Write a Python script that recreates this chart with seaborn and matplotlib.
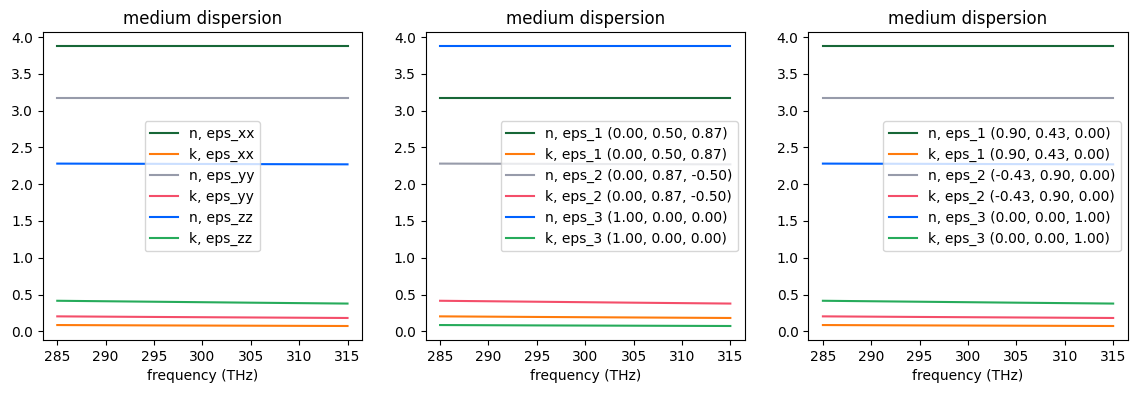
import matplotlib
matplotlib.use("Agg")
import matplotlib.pyplot as plt
import seaborn as sns
import numpy as np

# frequency samples (THz)
freq = [285, 295, 305, 315]

# principal components
n_xx = [3.875, 3.875, 3.875, 3.875]
k_xx = [0.085, 0.080, 0.076, 0.072]
n_yy = [3.170, 3.170, 3.170, 3.170]
k_yy = [0.203, 0.195, 0.188, 0.181]
n_zz = [2.280, 2.277, 2.273, 2.270]
k_zz = [0.415, 0.402, 0.389, 0.377]

colors = ["#176737", "#FF7B0D", "#979BAA", "#F44E6A", "#0062FF", "#26AB5B"]

labels_1 = ["n, eps_xx", "k, eps_xx", "n, eps_yy", "k, eps_yy", "n, eps_zz", "k, eps_zz"]
labels_2 = ["n, eps_1 (0.00, 0.50, 0.87)", "k, eps_1 (0.00, 0.50, 0.87)",
            "n, eps_2 (0.00, 0.87, -0.50)", "k, eps_2 (0.00, 0.87, -0.50)",
            "n, eps_3 (1.00, 0.00, 0.00)", "k, eps_3 (1.00, 0.00, 0.00)"]
labels_3 = ["n, eps_1 (0.90, 0.43, 0.00)", "k, eps_1 (0.90, 0.43, 0.00)",
            "n, eps_2 (-0.43, 0.90, 0.00)", "k, eps_2 (-0.43, 0.90, 0.00)",
            "n, eps_3 (0.00, 0.00, 1.00)", "k, eps_3 (0.00, 0.00, 1.00)"]

series_1 = [n_xx, k_xx, n_yy, k_yy, n_zz, k_zz]
series_2 = [n_yy, k_yy, n_zz, k_zz, n_xx, k_xx]
series_3 = [n_xx, k_xx, n_yy, k_yy, n_zz, k_zz]

fig, axes = plt.subplots(1, 3, figsize=(11.37, 3.93), dpi=100)
fig.subplots_adjust(left=0.0376, right=0.9918, top=0.9178, bottom=0.1349, wspace=0.199)

panels = [(series_1, labels_1, "center"),
          (series_2, labels_2, "center right"),
          (series_3, labels_3, "center right")]

for ax, (series, labels, loc) in zip(axes, panels):
    for vals, lab, c in zip(series, labels, colors):
        sns.lineplot(x=freq, y=vals, ax=ax, color=c, label=lab, linewidth=1.5)
    ax.set_title("medium dispersion", fontsize=12)
    ax.set_xlabel("frequency (THz)")
    ax.set_ylabel("")
    ax.set_xticks([285, 290, 295, 300, 305, 310, 315])
    ax.set_yticks(np.arange(0, 4.01, 0.5))
    ax.legend(loc=loc)

fig.savefig("out.png", dpi=100)
